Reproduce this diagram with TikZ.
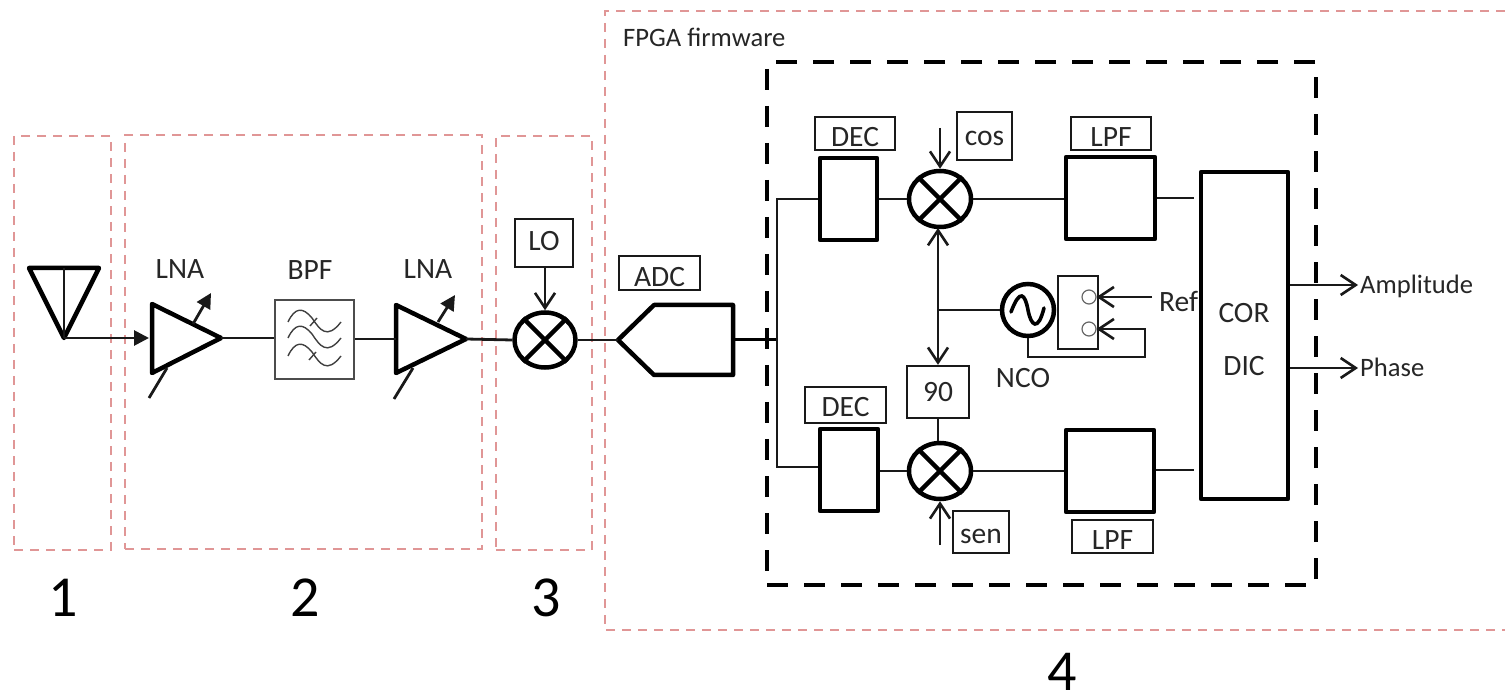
\documentclass[tikz,border=0pt]{standalone}
\usepackage{fontspec}
\setmainfont{Carlito}
\usetikzlibrary{arrows.meta,shapes.geometric,calc}
\definecolor{regionred}{RGB}{224,150,150}
\tikzset{
  region/.style={draw=regionred,line width=2.5pt,dash pattern=on 9pt off 7pt},
  fwbox/.style={draw=black,line width=4.5pt,dash pattern=on 21pt off 16pt},
  label/.style={font=\fontsize{29.5}{31}\selectfont,inner sep=0pt,text=black!85},
  small label/.style={font=\fontsize{26.6}{28}\selectfont,inner sep=0pt,text=black!85},
  big/.style={font=\fontsize{58}{58}\selectfont,inner sep=0pt,text=black,anchor=base},
  thinbox/.style={draw=black!90,line width=2.4pt,inner sep=0pt,label},
  thick box/.style={draw=black,line width=4.5pt,inner sep=0pt,label,line join=round},
  mixer/.style={draw=black,ellipse,line width=4.5pt,inner sep=0pt},
  sym/.style={draw=black,line width=4.5pt,line join=round},
  wire/.style={draw=black!90,line width=2.8pt},
  openarrow/.style={wire,-{Straight Barb[length=15pt,width=20pt,line width=2.6pt]}},
  openboth/.style={wire,{Straight Barb[length=15pt,width=20pt,line width=2.6pt]}-{Straight Barb[length=15pt,width=20pt,line width=2.6pt]}},
  fillarrow/.style={wire,-{Triangle[length=15pt,width=15pt]}},
  wave/.style={draw=black!75,line width=1.4pt},
}
\newcommand{\bx}[7]{%
  \pgfmathsetmacro{\bw}{#4-#2}\pgfmathsetmacro{\bh}{#5-#3}%
  \pgfmathsetmacro{\bcx}{(#4+#2)/2}\pgfmathsetmacro{\bcy}{(#5+#3)/2}%
  \node[#6,minimum width=\bw pt,minimum height=\bh pt] (#1) at (\bcx,\bcy) {#7};}
\newcommand{\mix}[5]{%
  \node[mixer,minimum width=#4pt,minimum height=#5pt] (#1) at (#2,#3) {};
  \draw[sym] (#1.45)--(#1.225) (#1.135)--(#1.315);}
\newcommand{\low}[2]{\raisebox{#1pt}[\height][\depth]{#2}}
\begin{document}
\begin{tikzpicture}[x=1pt,y=-1pt]
\useasboundingbox (0,0) rectangle (1505,692);
\clip (0,0) rectangle (1505,692);
% regions
\bx{regiona}{14}{136}{111}{550}{region}{}
\bx{regionb}{125}{135}{482}{549}{region}{}
\bx{regionc}{496}{136}{592}{550}{region}{}
\coordinate (ra) at (1505,11); \coordinate (rb) at (605,11); \coordinate (rc) at (605,630); \coordinate (rd) at (1505,630);
\draw[region] (ra)--(rb)--(rc)--(rd);
\bx{firmware}{767}{62}{1316}{585}{fwbox}{}
\node[small label,anchor=west] (fpga) at (623,37) {FPGA firmware};
\node[big] (n1) at (63,616) {1};
\node[big] (n2) at (305,616) {2};
\node[big] (n3) at (546,616) {3};
\node[big] (n4) at (1062,690) {4};
% antenna
\coordinate (antl) at (29,268); \coordinate (antr) at (99,268); \coordinate (antb) at (64,338); \coordinate (antt) at (64,268);
\draw[sym] (antl)--(antr)--(antb)--cycle;
\draw[wire] (antt)--(antb);
% first LNA
\coordinate (atl) at (152,304); \coordinate (abl) at (152,373); \coordinate (ao) at (221,338); \coordinate (ain) at (149,338);
\draw[sym] (atl)--(ao)--(abl)--cycle;
\draw[fillarrow] (antb)--(ain);
\coordinate (aga) at (193,324); \coordinate (agb) at (211,293); \coordinate (asa) at (167,368); \coordinate (asb) at (149,398);
\draw[fillarrow] (aga)--(agb);
\draw[wire] (asa)--(asb);
\node[label] (lnaa) at (180,269) {LNA};
% BPF
\bx{bpf}{275}{300}{354}{379}{draw=black!70,line width=1.4pt}{}
\node[label] (bpflabel) at (310,270) {BPF};
\foreach \dy in {0,16,34}{
  \draw[wave] (288,{322+\dy}) .. controls (295,{307+\dy}) and (303,{307+\dy}) .. (312,{318+\dy}) .. controls (320,{330+\dy}) and (327,{340+\dy}) .. (341,{322+\dy});
}
\draw[wave] (310,326)--(317,318) (309,360)--(316,352);
% second LNA
\coordinate (btl) at (396,305); \coordinate (bbl) at (396,373); \coordinate (bo) at (466,339);
\draw[sym] (btl)--(bo)--(bbl)--cycle;
\coordinate (bga) at (438,322); \coordinate (bgb) at (455,295); \coordinate (bsa) at (413,368); \coordinate (bsb) at (394,399);
\draw[fillarrow] (bga)--(bgb);
\draw[wire] (bsa)--(bsb);
\node[label] (lnab) at (428,269) {LNA};
\coordinate (bin) at (396,339);
\draw[wire] (ao)--(ao-|bpf.west);
\draw[wire] (bpf.east|-bin)--(bin);
% RF mixer
\mix{rfmix}{545}{340}{61}{55}
\bx{lo}{515}{219}{573}{267}{thinbox}{\low{2}{LO}}
\draw[openarrow] (lo.south-|rfmix)--(rfmix.north);
\draw[wire] (bo)--(rfmix.west);
% ADC
\coordinate (adca) at (618,340); \coordinate (adcb) at (654,305); \coordinate (adcc) at (733,305); \coordinate (adcd) at (733,375); \coordinate (adce) at (654,375);
\draw[sym] (adca)--(adcb)--(adcc)--(adcd)--(adce)--cycle;
\bx{adclabel}{619}{256}{700}{290}{thinbox}{\low{-4}{ADC}}
\draw[wire] (rfmix.east)--(adca);
\coordinate (adcout) at (733,340); \coordinate (split) at (777,340); \coordinate (splitt) at (777,199); \coordinate (splitb) at (777,467);
\draw[line width=3pt,black] (adcout)--(split);
% DEC / mixers
\bx{dect}{820}{158}{877}{240}{thick box}{}
\bx{decb}{820}{429}{878}{511}{thick box}{}
\bx{dectl}{815}{117}{895}{150}{thinbox}{\low{-4}{DEC}}
\bx{decbl}{805}{387}{886}{423}{thinbox}{\low{-2}{DEC}}
\draw[wire] (dect.west|-splitt)--(splitt)--(splitb)--(decb.west|-splitb);
\mix{mixt}{940}{199}{62}{56}
\mix{mixb}{940}{471}{62}{56}
\draw[wire] (dect.east|-mixt)--(mixt.west);
\draw[wire] (decb.east|-mixb)--(mixb.west);
% LPF
\bx{lpft}{1066}{157}{1155}{239}{thick box}{}
\bx{lpfb}{1066}{430}{1154}{512}{thick box}{}
\bx{lpftl}{1071}{117}{1151}{150}{thinbox}{\low{-4}{LPF}}
\bx{lpfbl}{1072}{520}{1153}{553}{thinbox}{\low{-4}{LPF}}
\draw[wire] (mixt.east)--(lpft.west|-mixt);
\draw[wire] (mixb.east)--(lpfb.west|-mixb);
\coordinate (lta) at (1194,198); \coordinate (lba) at (1194,470);
\draw[wire] (lpft.east|-lta)--(lta);
\draw[wire] (lpfb.east|-lba)--(lba);
% cos / sen
\bx{cosb}{957}{112}{1012}{160}{thinbox}{\low{-2}{cos}}
\bx{senb}{953}{511}{1009}{553}{thinbox}{\low{-4}{sen}}
\coordinate (cosst) at (940,128); \coordinate (senst) at (940,545);
\draw[openarrow] (cosst)--(mixt.north);
\draw[openarrow] (senst)--(mixb.south);
% 90
\bx{ninety}{907}{366}{969}{418}{thinbox}{90}
\coordinate (vt) at (938,228);
\draw[openboth] (vt)--(ninety.north-|vt);
\draw[wire] (ninety.south-|vt)--(mixb.north-|vt);
% NCO
\node[draw=black,circle,line width=4.5pt,minimum size=52pt,inner sep=0pt] (nco) at (1028,310) {};
\draw[line width=3.6pt,black,line cap=round] ($(nco)+(-17,2)$) .. controls ($(nco)+(-8,-22)$) and ($(nco)+(-3,-16)$) .. (nco.center) .. controls ($(nco)+(3,16)$) and ($(nco)+(10,22)$) .. ($(nco)+(16,-2)$);
\coordinate (vj) at (938,310);
\draw[wire] (nco.west)--(vj);
\node[label] (ncolabel) at (1023,378) {NCO};
\bx{sw}{1058}{276}{1098}{349}{thinbox}{}
\node[draw=black!60,circle,line width=1.2pt,minimum size=14pt,inner sep=0pt] (swa) at (1089,297) {};
\node[draw=black!60,circle,line width=1.2pt,minimum size=14pt,inner sep=0pt] (swb) at (1089,329) {};
\coordinate (refs) at (1152,297); \coordinate (fbr) at (1145,357); \coordinate (fbu) at (1145,329);
\draw[openarrow] (refs)--(swa.east);
\draw[openarrow] (nco.south)|-(fbr)--(fbu)--(swb.east);
\node[label,anchor=west] (ref) at (1159,301) {Ref};
% CORDIC
\bx{cordic}{1201}{172}{1288}{499}{thick box}{}
\node[label] (cor) at (1244,313) {COR};
\node[label] (dic) at (1244,366) {DIC};
\coordinate (ampc) at (1358,285); \coordinate (phc) at (1358,368);
\draw[openarrow] (cordic.east|-ampc)--(ampc);
\draw[openarrow] (cordic.east|-phc)--(phc);
\node[small label,anchor=west] (amp) at (1360,286) {Amplitude};
\node[small label,anchor=west] (phase) at (1360,367) {Phase};
\end{tikzpicture}
\end{document}
